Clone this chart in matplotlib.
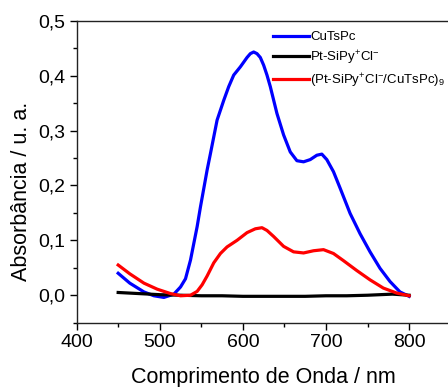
import numpy as np
import matplotlib
matplotlib.use('Agg')
import matplotlib.pyplot as plt
from matplotlib.ticker import MultipleLocator, FuncFormatter
from matplotlib.font_manager import FontProperties

plt.rcParams['font.family'] = ['Liberation Sans', 'DejaVu Sans']
plt.rcParams['mathtext.fontset'] = 'custom'
plt.rcParams['mathtext.rm'] = 'Liberation Sans'
plt.rcParams['mathtext.it'] = 'Liberation Sans'

# Espectros UV-Vis (comprimento de onda em nm, absorbância)
wl_cutspc = [450, 464, 481, 493, 505, 517, 525, 531, 537, 545, 549, 557, 561,
             569, 577, 583, 589, 597, 605, 609, 613, 617, 621, 625, 629, 633,
             641, 649, 657, 665, 673, 681, 689, 695, 701, 709, 717, 729, 741,
             753, 765, 777, 789, 800]
abs_cutspc = [0.040, 0.022, 0.006, -0.001, -0.004, 0.002, 0.015, 0.030, 0.064,
              0.125, 0.161, 0.228, 0.258, 0.319, 0.355, 0.380, 0.401, 0.416,
              0.433, 0.440, 0.443, 0.440, 0.433, 0.419, 0.401, 0.380, 0.331,
              0.292, 0.261, 0.245, 0.243, 0.247, 0.255, 0.257, 0.247, 0.225,
              0.195, 0.149, 0.112, 0.079, 0.049, 0.025, 0.006, -0.002]

wl_pt = [450, 475, 500, 525, 550, 575, 600, 625, 650, 675, 700, 725, 750,
         765, 780, 790, 800]
abs_pt = [0.005, 0.003, 0.001, 0.000, -0.001, -0.001, -0.002, -0.002, -0.002,
          -0.002, -0.001, -0.001, 0.000, 0.001, 0.002, 0.001, 0.000]

wl_film = [450, 464, 481, 497, 513, 525, 537, 545, 551, 557, 565, 573, 581,
           593, 605, 615, 623, 629, 637, 649, 661, 673, 685, 697, 709, 721,
           737, 753, 769, 785, 800]
abs_film = [0.055, 0.039, 0.022, 0.011, 0.003, -0.001, 0.000, 0.007, 0.019,
            0.035, 0.059, 0.076, 0.088, 0.100, 0.114, 0.121, 0.123, 0.118,
            0.107, 0.089, 0.079, 0.077, 0.081, 0.083, 0.076, 0.063, 0.045,
            0.028, 0.013, 0.004, -0.001]

fig = plt.figure(figsize=(4.48, 3.87), dpi=100)
ax = fig.add_axes([0.171, 0.1662, 0.835, 0.7803])

ax.plot(wl_cutspc, abs_cutspc, color='#0000ff', lw=2.3, label='CuTsPc')
ax.plot(wl_pt, abs_pt, color='black', lw=2.3,
        label=r'Pt-SiPy$^{\mathregular{+}}$Cl$^{\mathregular{-}}$')
ax.plot(wl_film, abs_film, color='#ff0000', lw=2.3,
        label=r'(Pt-SiPy$^{\mathregular{+}}$Cl$^{\mathregular{-}}$/CuTsPc)$_{\mathregular{9}}$')

ax.set_xlim(400, 850)
ax.set_ylim(-0.05, 0.5)
ax.xaxis.set_major_locator(MultipleLocator(100))
ax.xaxis.set_minor_locator(MultipleLocator(50))
ax.yaxis.set_major_locator(MultipleLocator(0.1))
ax.yaxis.set_minor_locator(MultipleLocator(0.05))
ax.yaxis.set_major_formatter(FuncFormatter(lambda v, p: f'{v:.1f}'.replace('.', ',')))

for s in ax.spines.values():
    s.set_linewidth(1.0)
    s.set_color('#222222')
ax.tick_params(which='major', length=5, width=1.0, labelsize=14, pad=3)
ax.tick_params(which='minor', length=3, width=1.0)

ax.set_xlabel('Comprimento de Onda / nm', fontsize=15.5, labelpad=12)
fig.text(21.5 / 448, 1 - 191 / 387, 'Absorbância / u. a.', rotation=90,
         ha='center', va='center', fontsize=15.5)

leg_font = FontProperties(family=['Liberation Sans Narrow', 'Liberation Sans'], size=9.5)
ax.legend(loc='upper left', bbox_to_anchor=(0.497, 1.0), frameon=False,
          prop=leg_font, handlelength=2.7, handletextpad=0.1,
          labelspacing=0.38, borderaxespad=0.4)

fig.savefig('out.png', dpi=100)
